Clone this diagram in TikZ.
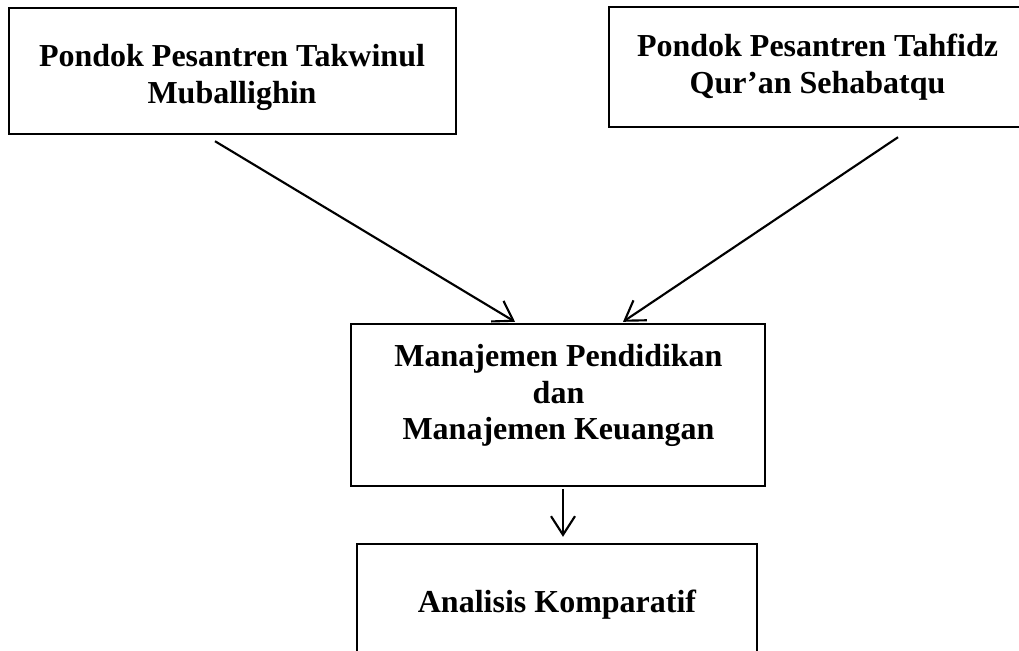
\documentclass[tikz,border=0pt]{standalone}
\usepackage{fontspec}
\setmainfont{Liberation Serif}
\usetikzlibrary{arrows.meta}

\begin{document}
\begin{tikzpicture}[x=0.75pt, y=-0.75pt,
		kotak/.style={draw, line width=1.8pt, inner sep=0pt},
		teks/.style={anchor=north, inner sep=0pt, align=center, font=\fontsize{24}{27.5}\selectfont\bfseries},
		panah/.style={line width=1.6pt, -{Straight Barb[length=14pt, width=18pt]}}]
		\useasboundingbox (0,0) rectangle (1019,650);

		\node[kotak, minimum width=335.25pt, minimum height=94.5pt] (pp1) at (232.5,71) {};
		\node[kotak, minimum width=313.5pt, minimum height=90pt] (pp2) at (818,67) {};
		\node[kotak, minimum width=310.5pt, minimum height=121.5pt] (mng) at (558,405) {};
		\node[kotak, minimum width=300pt, minimum height=94.5pt] (ana) at (557,607) {};

		\node[teks] (pp1t) at (232,44) {Pondok Pesantren Takwinul\\Muballighin};
		\node[teks] (pp2t) at (817.5,34) {Pondok Pesantren Tahfidz\\Qur’an Sehabatqu};
		\node[teks] (mngt) at (558.5,344) {Manajemen Pendidikan\\dan\\Manajemen Keuangan};
		\node[teks] (anat) at (557,590) {Analisis Komparatif};

		\draw[panah] ([shift={(-17.5,6)}]pp1.south) -- ([shift={(-43,-1)}]mng.north);
		\draw[panah] ([shift={(80,9)}]pp2.south) -- ([shift={(65,-1)}]mng.north);
		\draw[panah] ([shift={(5,2)}]mng.south) -- ([shift={(6,-6)}]ana.north);
	\end{tikzpicture}
\end{document}
